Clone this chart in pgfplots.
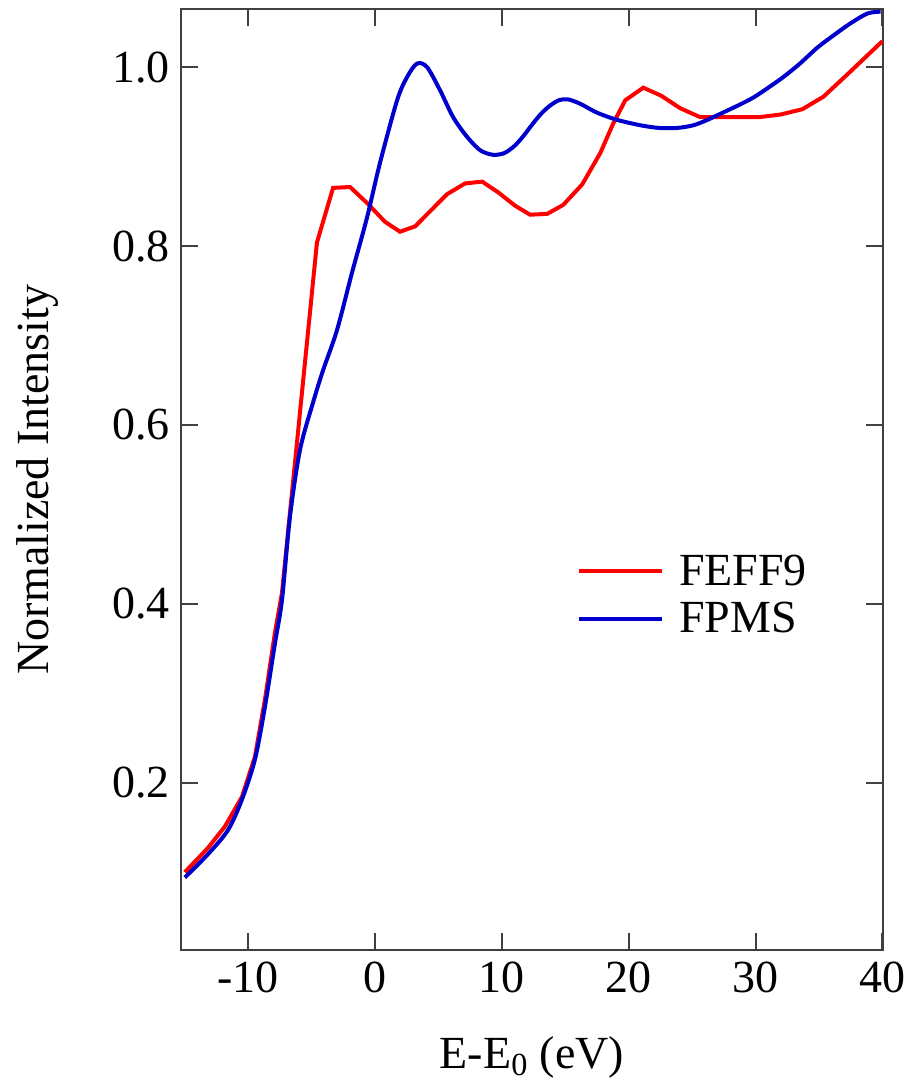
\documentclass[border=0pt]{standalone}
\usepackage{fontspec}
\setmainfont{Liberation Serif}
\usepackage{pgfplots}
\pgfplotsset{compat=1.18}

\definecolor{feffred}{RGB}{255,0,0}
\definecolor{fpmsblue}{RGB}{0,0,204}

\begin{document}
\begin{tikzpicture}
\useasboundingbox (-90.5pt,-70.5pt) rectangle (364pt,475pt);
\begin{axis}[
    scale only axis,
    width=351pt, height=470.5pt,
    xmin=-15.3, xmax=40.05,
    ymin=0.013, ymax=1.065,
    xtick={-10,0,10,20,30,40},
    xticklabels={-10,0,10,20,30,40},
    ytick={0.2,0.4,0.6,0.8,1.0},
    yticklabels={0.2,0.4,0.6,0.8,1.0},
    tick align=inside,
    xtick pos=both, ytick pos=both,
    major tick length=8.5pt,
    axis line style={black!75, line width=1pt},
    every tick/.style={black!75, line width=1pt},
    tick label style={font=\fontsize{23}{27}\selectfont},
    /pgf/number format/assume math mode=true,
    yticklabel style={xshift=-2pt},
    xticklabel style={yshift=-2.5pt},
    label style={font=\fontsize{23}{27}\selectfont},
    xlabel={E-E\textsubscript{0} (eV)},
    ylabel={Normalized Intensity},
    xlabel style={at={(axis description cs:0.5,-0.114)}, anchor=center},
    ylabel style={at={(axis description cs:-0.205,0.5)}, anchor=center},
    legend style={draw=none, fill=none, font=\fontsize{23}{27}\selectfont,
        at={(axis description cs:0.555,0.429)}, anchor=north west,
        row sep=3pt},
    legend cell align=left,
    legend image code/.code={\draw[#1] (0pt,0pt) -- (41.5pt,0pt); \path (47pt,0pt);},
]
\addplot[color=feffred, line width=2pt] coordinates {
(-15.0,0.100)(-13.18,0.127)(-11.84,0.151)(-10.50,0.184)(-9.47,0.229)
(-8.68,0.293)(-7.89,0.368)(-7.34,0.412)(-4.58,0.804)(-3.31,0.865)
(-1.97,0.866)(-0.55,0.847)(0.79,0.827)(1.97,0.816)(3.16,0.822)
(4.42,0.840)(5.68,0.858)(7.10,0.870)(8.45,0.872)(9.71,0.860)
(11.05,0.845)(12.23,0.835)(13.58,0.836)(14.84,0.846)(16.34,0.869)
(17.76,0.904)(18.78,0.937)(19.73,0.963)(21.15,0.977)(22.57,0.968)
(24.07,0.954)(25.65,0.944)(27.23,0.944)(30.23,0.944)(31.97,0.947)
(33.70,0.953)(35.36,0.967)(37.25,0.992)(40.0,1.029)
};
\addplot[color=fpmsblue, line width=2pt, smooth] coordinates {
(-15.0,0.094)(-13.18,0.120)(-11.60,0.147)(-10.50,0.181)(-9.47,0.226)
(-8.68,0.285)(-7.89,0.356)(-7.34,0.404)(-6.71,0.497)(-5.92,0.572)
(-4.89,0.625)(-4.10,0.661)(-3.00,0.706)(-1.82,0.770)(-0.63,0.832)
(0.39,0.893)(1.74,0.963)(2.53,0.989)(3.31,1.004)(4.10,1.000)
(5.13,0.974)(6.16,0.944)(7.26,0.922)(8.30,0.907)(9.31,0.902)
(10.20,0.904)(11.00,0.912)(11.70,0.923)(12.40,0.936)(13.10,0.948)
(13.80,0.957)(14.50,0.963)(15.20,0.964)(16.18,0.959)(17.52,0.949)
(19.10,0.941)(20.92,0.935)(22.40,0.932)(23.80,0.932)(25.10,0.935)
(26.20,0.941)(27.40,0.949)(28.60,0.957)(29.83,0.966)(31.00,0.977)
(32.20,0.989)(33.50,1.004)(34.89,1.022)(36.20,1.036)(37.49,1.049)
(38.83,1.060)(39.86,1.062)
};
\legend{FEFF9,FPMS}
\end{axis}
\end{tikzpicture}
\end{document}
